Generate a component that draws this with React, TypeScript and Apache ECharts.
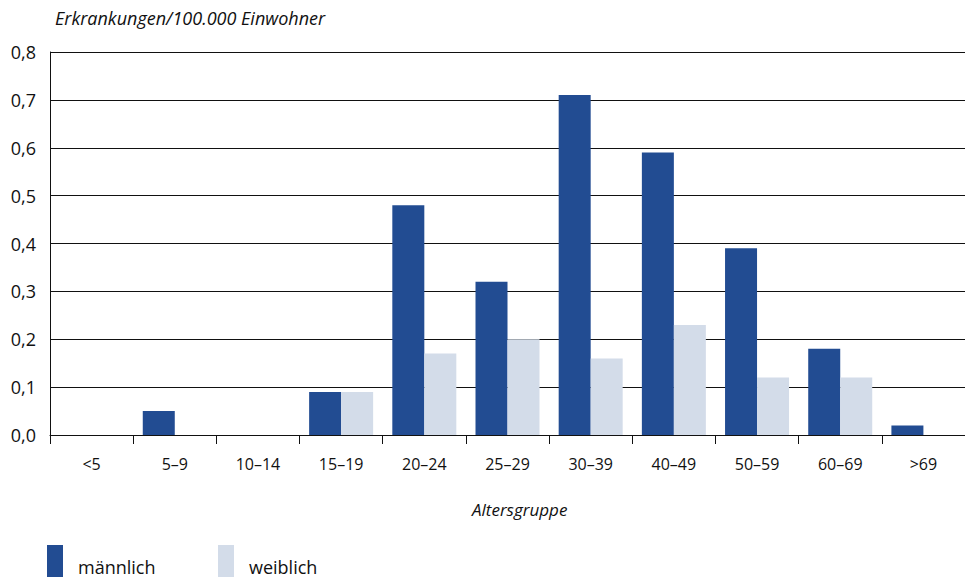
import React, { useEffect, useRef } from "react";
import * as echarts from "echarts";

const categories = ["<5", "5–9", "10–14", "15–19", "20–24", "25–29", "30–39", "40–49", "50–59", "60–69", ">69"];
const maleValues = [0, 0.05, 0, 0.09, 0.48, 0.32, 0.71, 0.59, 0.39, 0.18, 0.02];
const femaleValues = [0, 0, 0, 0.09, 0.17, 0.2, 0.16, 0.23, 0.12, 0.12, 0];
const seriesNames = ["männlich", "weiblich"];
const yTitle = "Erkrankungen/100.000 Einwohner";
const xTitle = "Altersgruppe";

const FONT = "'Open Sans', 'DejaVu Sans', sans-serif";
const MALE = "#224c92";
const FEMALE = "#d3dce9";
const INK = "#111111";

export default function App() {
  const ref = useRef<HTMLDivElement>(null);
  useEffect(() => {
    document.body.style.margin = "0";
    const chart = echarts.init(ref.current!, null, { renderer: "svg" });
    const legendText = {
      fontFamily: FONT,
      fontSize: 18,
      color: INK,
      rich: { a: { fontFamily: FONT, fontSize: 18, color: INK, padding: [11, 0, 0, 10] } },
    };
    chart.setOption({
      animation: false,
      backgroundColor: "#ffffff",
      textStyle: { fontFamily: FONT, color: INK },
      title: {
        text: yTitle,
        left: 50,
        top: 4,
        textStyle: { fontFamily: FONT, fontStyle: "italic", fontWeight: "normal", fontSize: 18, color: INK },
      },
      graphic: [
        {
          type: "text",
          left: 472,
          top: 501,
          style: { text: xTitle, fontFamily: FONT, fontStyle: "italic", fontSize: 17, fill: INK },
        },
      ],
      legend: [
        {
          data: [seriesNames[0]],
          left: 47,
          top: 545,
          icon: "rect",
          itemWidth: 16,
          itemHeight: 32,
          padding: 0,
          formatter: "{a|{name}}",
          textStyle: legendText,
        },
        {
          data: [seriesNames[1]],
          left: 218,
          top: 545,
          icon: "rect",
          itemWidth: 16,
          itemHeight: 32,
          padding: 0,
          formatter: "{a|{name}}",
          textStyle: legendText,
        },
      ],
      grid: { left: 50, right: 0, top: 52, bottom: 144, containLabel: false },
      xAxis: {
        type: "category",
        data: categories,
        axisLine: { show: true, lineStyle: { color: INK, width: 1 } },
        axisTick: { show: true, length: 9, lineStyle: { color: INK, width: 1 } },
        axisLabel: { margin: 21, fontFamily: FONT, fontSize: 16, color: INK },
      },
      yAxis: {
        type: "value",
        min: 0,
        max: 0.8,
        interval: 0.1,
        axisLine: { show: true, lineStyle: { color: INK, width: 1 } },
        axisTick: { show: false },
        splitLine: { show: true, lineStyle: { color: INK, width: 1 } },
        axisLabel: {
          margin: 14,
          fontFamily: FONT,
          fontSize: 18,
          color: INK,
          formatter: (v: number) => v.toFixed(1).replace(".", ","),
        },
      },
      series: [
        {
          name: seriesNames[0],
          type: "bar",
          data: maleValues,
          barWidth: 32,
          barGap: "0%",
          itemStyle: { color: MALE },
        },
        {
          name: seriesNames[1],
          type: "bar",
          data: femaleValues,
          barWidth: 32,
          barGap: "0%",
          itemStyle: { color: FEMALE },
        },
      ],
    });
    return () => chart.dispose();
  }, []);
  return <div ref={ref} style={{ width: 965, height: 579 }} />;
}
